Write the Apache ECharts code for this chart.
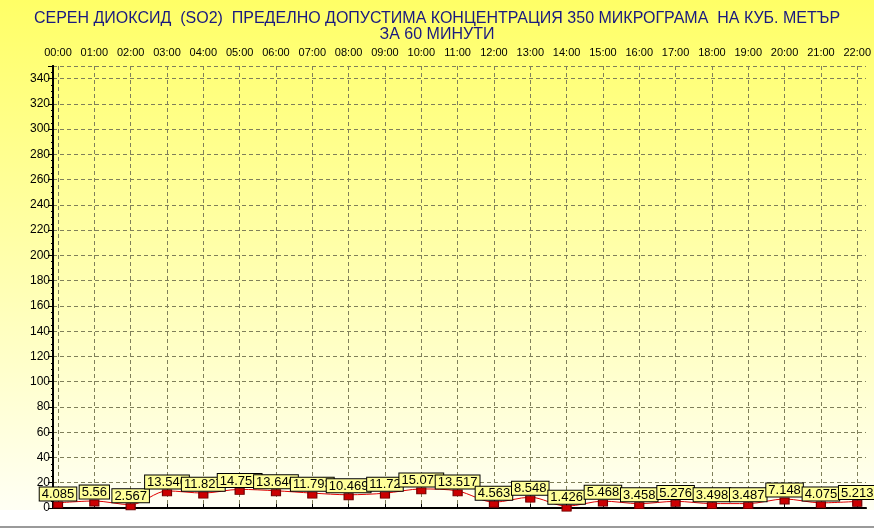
<!DOCTYPE html>
<html><head><meta charset="utf-8">
<script src="https://cdn.jsdelivr.net/npm/echarts@6/dist/echarts.min.js"></script>
<style>html,body{margin:0;padding:0;background:#fff}#c{width:874px;height:529px}</style>
</head><body><div id="c"></div>
<script>
const hours = ['00:00','01:00','02:00','03:00','04:00','05:00','06:00','07:00','08:00','09:00','10:00','11:00','12:00','13:00','14:00','15:00','16:00','17:00','18:00','19:00','20:00','21:00','22:00'];
const so2 = [4.085, 5.56, 2.567, 13.546, 11.827, 14.753, 13.646, 11.793, 10.469, 11.72, 15.077, 13.517, 4.563, 8.548, 1.426, 5.468, 3.458, 5.276, 3.498, 3.487, 7.148, 4.075, 5.213];
const titleText = 'СЕРЕН ДИОКСИД  (SO2)  ПРЕДЕЛНО ДОПУСТИМА КОНЦЕНТРАЦИЯ 350 МИКРОГРАМА  НА КУБ. МЕТЪР\nЗА 60 МИНУТИ';
const yMin = 0, yMax = 350, yStep = 20;

const font = 'Liberation Sans';
const chart = echarts.init(document.getElementById('c'));
chart.setOption({
  animation: false,
  backgroundColor: {
    type: 'linear', x: 0, y: 0, x2: 0, y2: 1,
    colorStops: [
      {offset: 0, color: '#ffff66'},
      {offset: 0.45, color: '#ffffa6'},
      {offset: 0.95, color: '#fffff2'},
      {offset: 0.964, color: '#fffff4'},
      {offset: 0.965, color: '#ffffff'},
      {offset: 1, color: '#ffffff'}
    ]
  },
  title: {
    text: titleText, left: 'center', top: 6,
    textStyle: {fontFamily: font, fontSize: 16, fontWeight: 'normal', color: '#1a1a80', lineHeight: 16}
  },
  grid: [
    {left: 58, right: 14, top: 66, bottom: 21},
    {left: 53, right: 8, top: 66, bottom: 21}
  ],
  xAxis: [
    {type: 'category', gridIndex: 0, position: 'top', boundaryGap: false, data: hours,
     axisLine: {show: false},
     axisTick: {show: true, length: 4, interval: 0, lineStyle: {color: '#000'}},
     axisLabel: {fontFamily: font, fontSize: 11, color: '#000', margin: 8, interval: 0, hideOverlap: false},
     splitLine: {show: true, interval: 0, lineStyle: {color: '#7f7f5a', type: [4, 3], width: 1}}},
    {type: 'value', gridIndex: 1, position: 'top', min: 0, max: 1,
     axisLine: {show: true, lineStyle: {color: '#000', width: 2}},
     axisTick: {show: false}, axisLabel: {show: false}, splitLine: {show: false}},
    {type: 'value', gridIndex: 1, position: 'bottom', min: 0, max: 1,
     axisLine: {show: true, lineStyle: {color: '#000', width: 1, type: [4, 3]}},
     axisTick: {show: false}, axisLabel: {show: false}, splitLine: {show: false}}
  ],
  yAxis: [
    {type: 'value', gridIndex: 1, position: 'left', min: yMin, max: yMax, interval: yStep,
     axisLine: {show: true, lineStyle: {color: '#000', width: 2}},
     axisTick: {show: true, length: 5, lineStyle: {color: '#000'}},
     minorTick: {show: true, splitNumber: 4, length: 2, lineStyle: {color: '#000'}},
     axisLabel: {fontFamily: font, fontSize: 12, color: '#000', margin: 3, showMaxLabel: false,
       formatter: v => (v % yStep === 0 ? String(v) : '')},
     splitLine: {show: true, lineStyle: {color: '#7f7f5a', type: [4, 3], width: 1}}},
    {type: 'value', gridIndex: 0, min: yMin, max: yMax, show: false},
    {type: 'value', gridIndex: 1, position: 'right', min: yMin, max: yMax,
     axisLine: {show: true, lineStyle: {color: '#000', width: 2}},
     axisTick: {show: false}, axisLabel: {show: false}, splitLine: {show: false}}
  ],
  series: [{
    type: 'line', xAxisIndex: 0, yAxisIndex: 1, data: so2,
    smooth: 0.3,
    lineStyle: {color: '#e00000', width: 1},
    symbol: 'rect', symbolSize: [9, 6], symbolOffset: [0, 2],
    itemStyle: {color: '#cc0000', borderColor: '#700000', borderWidth: 1},
    label: {show: true, position: 'top', distance: 1,
      fontFamily: font, fontSize: 13, color: '#000', lineHeight: 12,
      backgroundColor: '#ffff99', borderColor: '#000', borderWidth: 1, padding: [1, 2, 0, 2]},
    z: 5
  }],
  graphic: [{type: 'rect', shape: {x: 0, y: 526, width: 874, height: 2}, style: {fill: '#9a9a9a'}, silent: true}]
});
</script></body></html>
